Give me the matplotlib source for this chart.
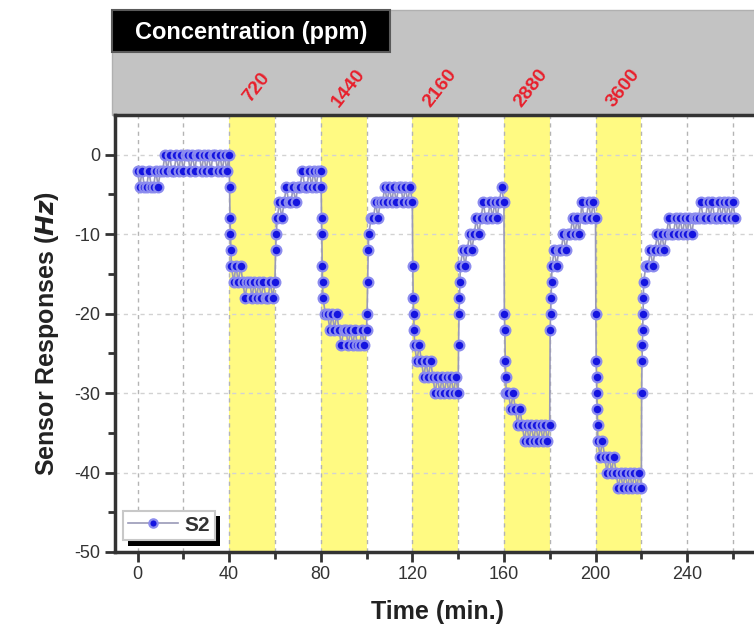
import matplotlib
matplotlib.use("Agg")
import matplotlib.pyplot as plt
import matplotlib.patches as mpatches
import matplotlib.patheffects as pe
from matplotlib.ticker import MultipleLocator
import matplotlib.transforms as mtransforms

plt.rcParams['font.family'] = ['Liberation Sans', 'DejaVu Sans']
plt.rcParams['axes.unicode_minus'] = False

# ---------------- data ----------------
exposure_start = [40, 80, 120, 160, 200]
exposure_end = [60, 100, 140, 180, 220]
concentration_ppm = ['720', '1440', '2160', '2880', '3600']
series_name = 'S2'

time_min = [
    # baseline
    0, 1, 2, 3, 4, 5, 6, 7, 8, 9, 10, 11, 12, 13, 14, 15, 16, 17, 18, 19, 20,
    21, 22, 23, 24, 25, 26, 27, 28, 29, 30, 31, 32, 33, 34, 35, 36, 37, 38, 39, 40,
    # exposure 1
    40.2, 40.4, 40.6, 40.8, 41, 42, 43, 44, 45, 46, 47, 48, 49, 50, 51, 52, 53, 54,
    55, 56, 57, 58, 59, 60,
    # recovery 1
    60.3, 60.6, 61, 62, 63, 64, 65, 66, 67, 68, 69, 70, 71, 72, 73, 74, 75, 76, 77,
    78, 79, 80,
    # exposure 2
    80.2, 80.35, 80.5, 80.65, 80.8, 81, 82, 83, 84, 85, 86, 87, 88, 89, 90, 91, 92,
    93, 94, 95, 96, 97, 98, 99, 100,
    # recovery 2
    100.25, 100.5, 100.75, 101, 102, 103, 104, 105, 106, 107, 108, 109, 110, 111,
    112, 113, 114, 115, 116, 117, 118, 119, 120,
    # exposure 3
    120.2, 120.4, 120.6, 120.8, 121, 122, 123, 124, 125, 126, 127, 128, 129, 130,
    131, 132, 133, 134, 135, 136, 137, 138, 139, 140,
    # recovery 3
    140.2, 140.4, 140.6, 140.8, 141, 142, 143, 144, 145, 146, 147, 148, 149, 150,
    151, 152, 153, 154, 155, 156, 157, 158, 159, 160,
    # exposure 4
    160.2, 160.4, 160.6, 160.8, 161, 162, 163, 164, 165, 166, 167, 168, 169, 170,
    171, 172, 173, 174, 175, 176, 177, 178, 179, 180,
    # recovery 4
    180.2, 180.4, 180.6, 180.8, 181, 182, 183, 184, 185, 186, 187, 188, 189, 190,
    191, 192, 193, 194, 195, 196, 197, 198, 199, 200,
    # exposure 5
    200.15, 200.3, 200.45, 200.6, 200.75, 200.9, 201, 202, 203, 204, 205, 206, 207,
    208, 209, 210, 211, 212, 213, 214, 215, 216, 217, 218, 219, 220,
    # recovery 5
    220.15, 220.3, 220.45, 220.6, 220.75, 220.9, 221, 222, 223, 224, 225, 226, 227,
    228, 229, 230, 231, 232, 233, 234, 235, 236, 237, 238, 239, 240, 241, 242, 243,
    244, 245, 246, 247, 248, 249, 250, 251, 252, 253, 254, 255, 256, 257, 258, 259,
    260, 261,
]

response_hz = [
    # baseline
    -2, -4, -2, -4, -4, -2, -4, -4, -2, -4, -2, -2, 0, -2, 0, -2, -2, 0, -2, 0, -2,
    0, 0, -2, 0, -2, 0, 0, -2, 0, -2, 0, -2, 0, 0, -2, 0, -2, 0, -2, 0,
    # exposure 1
    -4, -8, -10, -12, -14, -16, -14, -16, -14, -16, -18, -16, -16, -18, -16, -18,
    -16, -18, -16, -18, -18, -16, -18, -16,
    # recovery 1
    -12, -10, -8, -6, -8, -6, -4, -6, -6, -4, -6, -4, -4, -2, -4, -4, -2, -4, -2,
    -4, -2, -2,
    # exposure 2
    -4, -8, -10, -14, -16, -18, -20, -20, -22, -20, -22, -20, -22, -24, -22, -22,
    -24, -22, -24, -22, -24, -24, -22, -24, -22,
    # recovery 2
    -20, -16, -12, -10, -8, -8, -6, -8, -6, -6, -4, -6, -4, -6, -4, -6, -4, -4, -6,
    -4, -6, -4, -6,
    # exposure 3
    -14, -18, -20, -22, -24, -26, -24, -26, -28, -26, -28, -26, -28, -30, -28, -30,
    -28, -30, -28, -30, -28, -30, -28, -30,
    # recovery 3
    -24, -20, -18, -16, -14, -12, -14, -12, -10, -12, -10, -8, -10, -8, -6, -8, -8,
    -6, -8, -6, -8, -6, -4, -6,
    # exposure 4
    -20, -22, -26, -28, -30, -30, -32, -30, -32, -34, -32, -34, -36, -34, -36, -34,
    -36, -34, -36, -34, -36, -34, -36, -34,
    # recovery 4
    -22, -20, -18, -16, -14, -12, -14, -12, -12, -10, -12, -10, -10, -8, -10, -8,
    -10, -6, -8, -8, -6, -8, -6, -8,
    # exposure 5
    -20, -26, -28, -30, -32, -34, -36, -38, -36, -38, -40, -38, -40, -38, -40, -42,
    -40, -42, -40, -42, -40, -42, -40, -42, -40, -42,
    # recovery 5
    -30, -26, -24, -22, -20, -18, -16, -14, -14, -12, -14, -12, -10, -12, -10, -12,
    -10, -8, -10, -10, -8, -10, -8, -10, -8, -10, -8, -10, -8, -8, -8, -6, -8, -8,
    -6, -8, -6, -8, -8, -6, -8, -6, -8, -6, -8, -6, -8,
]

# ---------------- figure ----------------
W, H = 754, 637
fig = plt.figure(figsize=(W / 100, H / 100), dpi=100)

ax_left, ax_right, ax_top, ax_bottom = 114.6, 760.4, 115.4, 552.0
ax = fig.add_axes([ax_left / W, 1 - ax_bottom / H,
                   (ax_right - ax_left) / W, (ax_bottom - ax_top) / H])
ax.set_zorder(5)
ax.set_xlim(-10, 272)
ax.set_ylim(-50, 4.95)

# header band
band_top, black_bottom = 10, 52
fig.patches.append(mpatches.Rectangle(
    (112 / W, 1 - ax_top / H), 1.0, (ax_top - band_top) / H,
    transform=fig.transFigure, facecolor='#c3c3c3', edgecolor='#b0b0b0',
    linewidth=1.0, zorder=0))
fig.patches.append(mpatches.Rectangle(
    (112 / W, 1 - black_bottom / H), (390 - 112) / W, (black_bottom - band_top) / H,
    transform=fig.transFigure, facecolor='black', edgecolor='#5a5a5a',
    linewidth=1.5, zorder=1))
fig.text(251 / W, 1 - 32 / H, 'Concentration (ppm)', color='white',
         fontsize=17, fontweight='bold', ha='center', va='center', zorder=2)

# exposure bands
for s, e in zip(exposure_start, exposure_end):
    ax.axvspan(s, e, facecolor='#fffa82', edgecolor='none', zorder=0.2)

# concentration labels above axes
trans = mtransforms.blended_transform_factory(ax.transData, ax.transAxes)
for s, lab in zip(exposure_start, concentration_ppm):
    ax.text(s + 12, 1.063, lab, transform=trans, color='#e8202c', fontsize=14,
            fontweight='bold', rotation=52, ha='center', va='center',
            clip_on=False)

# grid
ax.set_axisbelow(True)
ax.xaxis.set_major_locator(MultipleLocator(40))
ax.xaxis.set_minor_locator(MultipleLocator(20))
ax.yaxis.set_major_locator(MultipleLocator(10))
ax.yaxis.set_minor_locator(MultipleLocator(5))
ax.grid(True, which='both', axis='x', color='#b4b4b4', linestyle=(0, (3, 3)),
        linewidth=1.0)
ax.grid(True, which='major', axis='y', color='#d2d2d2', linestyle=(0, (3, 3)),
        linewidth=1.0)

# data
line, = ax.plot(time_min, response_hz, color='#9a9ab8', linewidth=1.2,
                marker='o', markersize=7, markerfacecolor='#1414e0',
                markeredgecolor='#8c8cee', markeredgewidth=1.6, zorder=3,
                label=series_name)

# axes styling
for side in ['left', 'bottom', 'top']:
    ax.spines[side].set_color('#333333')
    ax.spines[side].set_linewidth(2.5)
ax.spines['right'].set_visible(False)
ax.tick_params(which='major', direction='out', length=7, width=2,
               color='#333333', labelsize=13, labelcolor='#333333', pad=3)
ax.tick_params(which='minor', direction='out', length=5, width=2,
               color='#333333')
ax.tick_params(axis='x', top=False)

ax.set_xlabel('Time (min.)', fontsize=18, fontweight='bold', color='#222222',
              labelpad=12)
ax.set_ylabel(r'Sensor Responses ($\bfit{Hz}$)', fontsize=18, fontweight='bold',
              color='#222222', labelpad=10)

leg = ax.legend(loc='lower left', bbox_to_anchor=(0.0124, 0.0275),
                borderaxespad=0, fontsize=15, handlelength=2.4,
                handletextpad=0.3, borderpad=0.25, numpoints=1,
                fancybox=False, framealpha=1, edgecolor='#c8c8c8')
for t in leg.get_texts():
    t.set_fontweight('bold')
    t.set_color('#333333')
leg.get_frame().set_linewidth(1.5)
leg.get_frame().set_path_effects([
    pe.SimplePatchShadow(offset=(4, -4), shadow_rgbFace='black', alpha=1.0),
    pe.Normal()])
lh = leg.legend_handles[0]
lh.set_markersize(6)

fig.savefig('out.png', dpi=100)
